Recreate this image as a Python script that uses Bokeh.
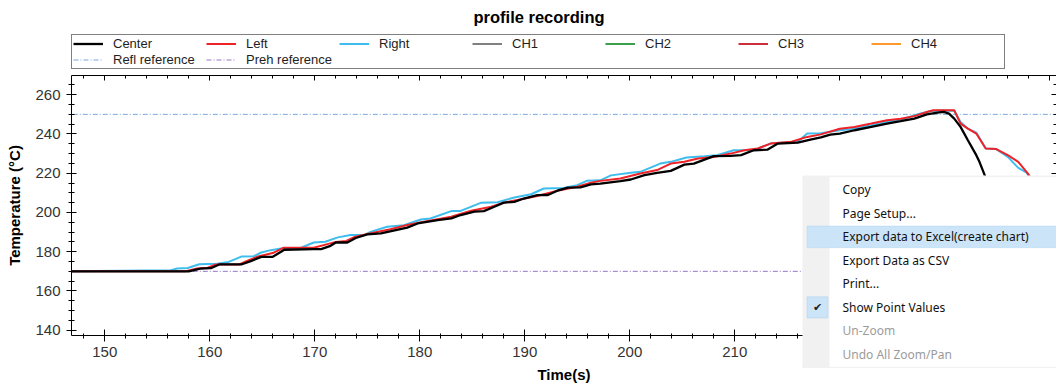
from bokeh.plotting import figure
from bokeh.layouts import column
from bokeh.models import (Range1d, LinearAxis, SingleIntervalTicker, Legend, LegendItem,
                          BoxAnnotation, Label)
from bokeh.embed import file_html
from bokeh.resources import INLINE

# ---------------- data ----------------
title_text = "profile recording"
x_label = "Time(s)"
y_label = "Temperature (°C)"

center_t = [146.0, 158.0, 159.1, 160.1, 160.9, 163.0, 163.9, 164.9, 166.0, 167.1, 169.9, 170.6,
            171.5, 172.0, 173.1, 173.9, 175.0, 176.3, 178.8, 179.8, 181.7, 183.0, 183.9, 185.2,
            186.1, 187.1, 188.0, 189.0, 189.9, 191.2, 192.2, 193.1, 194.1, 195.3, 196.3, 197.2,
            199.1, 200.1, 201.4, 202.6, 203.9, 205.2, 206.1, 208.0, 209.6, 210.6, 211.8, 213.1,
            214.1, 216.0, 217.2, 218.2, 219.1, 220.0, 221.4, 223.0, 224.5, 225.8, 227.1, 228.3,
            229.3, 229.9, 230.4, 230.9, 231.5, 232.2, 233.0, 233.3, 233.8, 234.5, 235.5]
center_v = [170.0, 170.0, 171.4, 171.6, 173.5, 173.5, 175.2, 177.4, 177.4, 181.0, 181.3, 181.3,
            183.0, 184.7, 184.7, 187.0, 188.8, 189.3, 192.3, 194.4, 196.1, 197.0, 198.7, 200.4,
            200.7, 202.9, 205.0, 205.4, 207.1, 208.8, 208.9, 211.1, 212.7, 212.8, 214.3, 214.7,
            216.0, 216.8, 219.0, 220.2, 221.2, 224.4, 224.9, 228.7, 228.8, 229.2, 231.7, 232.0,
            235.1, 235.6, 237.1, 238.3, 239.7, 240.2, 241.9, 243.6, 245.3, 246.5, 247.8, 250.0,
            250.9, 251.3, 250.4, 247.8, 243.6, 236.8, 229.2, 225.8, 219.0, 205.0, 190.0]

left_t = [146.0, 157.7, 158.8, 159.8, 160.6, 162.8, 163.6, 164.6, 166.0, 167.0, 169.9, 171.3,
          172.0, 173.0, 173.8, 175.0, 177.2, 178.8, 180.4, 183.0, 184.9, 186.8, 188.0, 189.3,
          191.2, 193.1, 195.0, 196.3, 197.2, 199.1, 201.0, 202.6, 203.9, 205.2, 206.5, 208.0,
          209.6, 210.9, 212.2, 213.4, 215.4, 216.9, 218.2, 220.0, 221.4, 223.0, 224.5, 225.8,
          227.1, 228.3, 228.9, 230.9, 231.5, 232.2, 233.0, 233.9, 234.9, 236.0, 237.0, 237.9,
          238.5, 240.0, 241.5]
left_v = [170.0, 170.0, 171.4, 171.8, 173.5, 173.5, 175.4, 177.6, 179.3, 182.0, 182.0, 184.0,
          185.0, 185.5, 187.5, 189.0, 191.4, 193.6, 195.3, 197.8, 200.9, 202.9, 205.0, 206.3,
          208.4, 211.1, 213.1, 215.2, 216.1, 217.3, 219.9, 221.6, 224.9, 225.8, 227.5, 228.3,
          230.0, 231.7, 232.6, 235.1, 236.0, 238.5, 239.8, 242.7, 243.6, 245.3, 247.0, 247.8,
          249.1, 251.2, 252.1, 252.1, 245.3, 242.7, 240.2, 232.6, 232.3, 229.2, 225.8, 219.9,
          215.0, 205.0, 195.0]

right_t = [146.0, 156.3, 156.9, 157.9, 159.0, 160.7, 161.8, 163.0, 164.2, 164.9, 165.8, 166.8,
           168.7, 169.9, 171.0, 172.2, 173.4, 174.7, 175.3, 176.9, 178.5, 180.1, 181.0, 183.0,
           183.9, 185.8, 187.4, 189.0, 190.6, 191.8, 193.7, 195.0, 195.9, 197.2, 198.2, 200.1,
           201.0, 202.9, 203.9, 205.4, 207.1, 208.3, 209.9, 211.8, 213.4, 216.0, 216.9, 218.2,
           220.0, 221.4, 223.0, 224.5, 226.1, 227.7, 228.6, 229.5, 230.9, 231.5, 232.2, 233.0,
           233.9, 234.9, 236.0, 237.0, 237.8, 238.5, 240.0, 241.5]
right_v = [170.0, 170.6, 171.4, 171.7, 173.6, 173.9, 174.8, 177.5, 177.7, 179.6, 180.8, 181.6,
           182.0, 184.7, 185.1, 187.3, 188.5, 188.5, 190.1, 192.7, 193.5, 196.4, 196.9, 200.7,
           200.8, 204.9, 205.2, 207.6, 209.3, 212.2, 212.5, 213.9, 216.1, 216.4, 218.9, 220.2,
           220.7, 224.9, 225.8, 228.0, 228.7, 229.2, 231.7, 231.7, 235.1, 236.0, 240.2, 240.4,
           241.9, 242.7, 244.4, 246.1, 247.8, 250.4, 251.6, 252.0, 251.8, 246.1, 242.7, 240.7,
           232.6, 232.3, 228.3, 222.7, 220.3, 214.0, 204.0, 194.0]

# CH1..CH4 carry no samples in this recording
ch_t = [float("nan")]
ch_v = [float("nan")]

ref_t = [146.0, 242.0]
refl_value = 250.0
preh_value = 170.0

legend_labels = ["Center", "Left", "Right", "CH1", "CH2", "CH3", "CH4",
                 "Refl reference", "Preh reference"]

menu_items = ["Copy", "Page Setup...", "Export data to Excel(create chart)",
              "Export Data as CSV", "Print...", "Show Point Values", "Un-Zoom",
              "Undo All Zoom/Pan"]
menu_enabled = [True, True, True, True, True, True, False, False]
menu_highlight = 2
menu_checked = 5

# ---------------- styles ----------------
FONT = "Liberation Sans"
STYLE = {
    "Center": dict(line_color="black", line_width=2.3),
    "Left": dict(line_color="#ee2328", line_width=2),
    "Right": dict(line_color="#3fbdec", line_width=2),
    "CH1": dict(line_color="#808080", line_width=2),
    "CH2": dict(line_color="#3a9e4c", line_width=2),
    "CH3": dict(line_color="#cc2f3b", line_width=2),
    "CH4": dict(line_color="#ff9a2e", line_width=2),
    "Refl reference": dict(line_color="#7aa7db", line_width=1, line_dash="5 2 1 2"),
    "Preh reference": dict(line_color="#9679c4", line_width=1, line_dash="5 2 1 2"),
}

W = 1056
HEADER_H = 70
MAIN_H = 317
FRAME_LEFT = 71          # left border of the plot frames (column aligns the frames)

# ---------------- header: title + legend ----------------
hdr = figure(width=W, height=HEADER_H, output_backend="svg", toolbar_location=None,
             x_axis_type=None, y_axis_type=None, x_range=Range1d(0, 1), y_range=Range1d(0, 1),
             min_border_left=FRAME_LEFT, min_border_right=0, min_border_top=0, min_border_bottom=0)
hdr.outline_line_color = None
hdr.xgrid.visible = False
hdr.ygrid.visible = False
hdr.background_fill_color = "white"
hdr.border_fill_color = "white"

hdr.add_layout(Label(x=473 - FRAME_LEFT, y=HEADER_H - 16, x_units="screen", y_units="screen",
                     text=title_text, text_font=FONT, text_font_size="16.5px",
                     text_font_style="bold", text_color="black",
                     text_align="left", text_baseline="alphabetic"))

proxies = [hdr.line(ch_t, ch_v, **STYLE[lab]) for lab in legend_labels]
legend = Legend(items=[LegendItem(label=lab, renderers=[r]) for lab, r in zip(legend_labels, proxies)],
                orientation="horizontal", ncols=7, location=(0, 1.5),
                glyph_width=30, glyph_height=13, label_standoff=10, label_width=92,
                label_height=13, spacing=1, padding=1, margin=0,
                border_line_color="black", border_line_width=1,
                background_fill_color="white", background_fill_alpha=1.0,
                label_text_font=FONT, label_text_font_size="13px", label_text_color="#1e1e1e")
hdr.add_layout(legend)

# ---------------- main plot ----------------
X_START = 146.83
PX_PER_S = 10.5
FRAME_W = W - FRAME_LEFT

p = figure(width=W, height=MAIN_H, output_backend="svg", toolbar_location=None,
           x_range=Range1d(X_START, X_START + FRAME_W / PX_PER_S),
           y_range=Range1d(137.3, 269.8),
           min_border_left=FRAME_LEFT, min_border_right=0, min_border_bottom=52, min_border_top=5)
p.background_fill_color = "white"
p.border_fill_color = "white"
p.outline_line_color = None
p.xgrid.visible = False
p.ygrid.visible = False

xa = p.xaxis[0]
xa.ticker = SingleIntervalTicker(interval=10, num_minor_ticks=5)
ya = p.yaxis[0]
ya.ticker = SingleIntervalTicker(interval=20, num_minor_ticks=4)
for ax in (xa, ya):
    ax.axis_line_color = "black"
    ax.major_tick_line_color = "black"
    ax.minor_tick_line_color = "black"
    ax.major_label_text_font = FONT
    ax.major_label_text_font_size = "15px"
    ax.major_label_text_color = "#333333"
    ax.axis_label_text_font = FONT
    ax.axis_label_text_font_size = "15px"
    ax.axis_label_text_font_style = "bold"
    ax.axis_label_text_color = "black"
xa.axis_label = x_label
ya.axis_label = y_label
xa.major_tick_in = 6
xa.major_tick_out = 6
xa.minor_tick_in = 2
xa.minor_tick_out = 3
xa.major_label_standoff = 5
xa.axis_label_standoff = 6
ya.major_tick_in = 5
ya.major_tick_out = 5
ya.minor_tick_in = 3
ya.minor_tick_out = 3
ya.major_label_standoff = 6
ya.axis_label_standoff = 9

top_ax = LinearAxis(ticker=SingleIntervalTicker(interval=10, num_minor_ticks=5))
right_ax = LinearAxis(ticker=SingleIntervalTicker(interval=20, num_minor_ticks=4))
for ax in (top_ax, right_ax):
    ax.axis_line_color = "black"
    ax.major_tick_line_color = "black"
    ax.minor_tick_line_color = "black"
    ax.major_tick_in = 5
    ax.major_tick_out = 0
    ax.minor_tick_in = 3
    ax.minor_tick_out = 0
    ax.major_label_text_color = None
    ax.major_label_text_font_size = "0px"
    ax.major_label_standoff = 0
p.add_layout(top_ax, "above")
p.add_layout(right_ax, "right")

p.line(ref_t, [refl_value] * len(ref_t), **STYLE["Refl reference"])
p.line(ref_t, [preh_value] * len(ref_t), **STYLE["Preh reference"])
for lab in ("CH1", "CH2", "CH3", "CH4"):
    p.line(ch_t, ch_v, **STYLE[lab])
p.line(right_t, right_v, **STYLE["Right"])
p.line(left_t, left_v, **STYLE["Left"])
p.line(center_t, center_v, **STYLE["Center"])

# ---------------- context menu (floating over the chart) ----------------
MENU_X, MENU_Y = 802, 175       # visible top-left corner of the menu on the page
MENU_W, MENU_H = W - MENU_X, 193
menu = figure(width=MENU_W + FRAME_LEFT, height=MENU_H, output_backend="svg",
              toolbar_location=None, x_axis_type=None, y_axis_type=None,
              x_range=Range1d(0, 1), y_range=Range1d(0, 1),
              min_border_left=FRAME_LEFT, min_border_right=0, min_border_top=0, min_border_bottom=0)
menu.outline_line_color = None
menu.xgrid.visible = False
menu.ygrid.visible = False
menu.background_fill_color = "white"
menu.border_fill_color = "white"
menu.border_fill_alpha = 0.0
menu.styles = {"position": "absolute", "left": f"{MENU_X - FRAME_LEFT}px",
               "top": f"{MENU_Y}px", "z-index": "10"}

ITEM_TOP = 178.7
ITEM_PITCH = 23.53
TEXT_X = 40


def box(l, r, t, b, fill, line=None):
    return BoxAnnotation(left=l, right=r, top=t, bottom=b,
                         left_units="screen", right_units="screen",
                         top_units="screen", bottom_units="screen",
                         fill_color=fill, fill_alpha=1.0,
                         line_color=line, line_width=1)


menu.add_layout(box(0.5, MENU_W + 40, MENU_H - 0.5, 0.5, "white", "#a0a0a0"))
menu.add_layout(box(1, 27, MENU_H - 1, 1, "#f1f1f1", None))
hy = ITEM_TOP - menu_highlight * ITEM_PITCH
menu.add_layout(box(4.5, MENU_W + 40, hy + 10.8, hy - 10.8, "#cce4f7", "#99c6ee"))
cy = ITEM_TOP - menu_checked * ITEM_PITCH
menu.add_layout(box(4.5, 25.5, cy + 10.6, cy - 10.6, "#cce4f7", "#90c2ee"))
menu.add_layout(Label(x=15, y=cy, x_units="screen", y_units="screen", text="✔",
                      text_font="DejaVu Sans", text_font_size="11px", text_color="#222222",
                      text_align="center", text_baseline="middle"))
for i, (txt, en) in enumerate(zip(menu_items, menu_enabled)):
    menu.add_layout(Label(x=TEXT_X, y=ITEM_TOP - i * ITEM_PITCH, x_units="screen", y_units="screen",
                          text=txt, text_font="Noto Sans", text_font_size="12px",
                          text_color="#111111" if en else "#9b9b9b",
                          text_align="left", text_baseline="middle"))

layout = column(hdr, p, menu, spacing=0)
open("out.html", "w").write(file_html(layout, INLINE))
